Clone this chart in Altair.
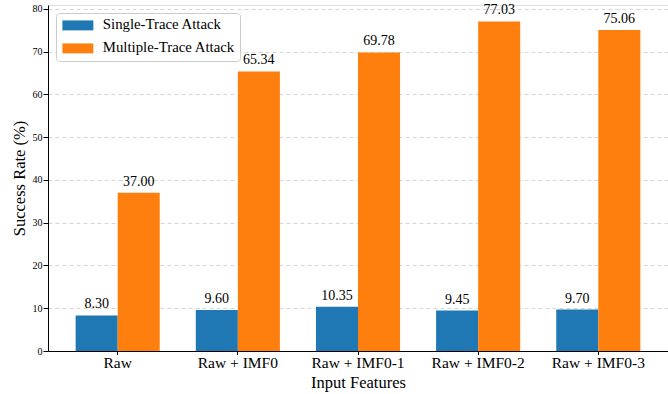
import altair as alt
import pandas as pd

categories = ["Raw", "Raw + IMF0", "Raw + IMF0-1", "Raw + IMF0-2", "Raw + IMF0-3"]
single = [8.30, 9.60, 10.35, 9.45, 9.70]
multi = [37.00, 65.34, 69.78, 77.03, 75.06]
series = ["Single-Trace Attack", "Multiple-Trace Attack"]
colors = ["#1f77b4", "#ff7f0e"]
y_ticks = [0, 10, 20, 30, 40, 50, 60, 70, 80]

rows = []
for c, s, m in zip(categories, single, multi):
    rows.append({"feature": c, "series": series[0], "value": s})
    rows.append({"feature": c, "series": series[1], "value": m})
df = pd.DataFrame(rows)

FONT = "Liberation Serif"

x = alt.X("feature:N", sort=categories, title="Input Features",
          scale=alt.Scale(paddingInner=0.3, paddingOuter=0.23),
          axis=alt.Axis(labelAngle=0, labelFontSize=15.5, titleFontSize=16.5,
                        labelFont=FONT, titleFont=FONT, tickSize=3.5,
                        labelPadding=1, titlePadding=3, labelColor="black",
                        titleColor="black", titleFontWeight="normal",
                        domainColor="black", tickColor="black", grid=False))
xo = alt.XOffset("series:N", sort=series, scale=alt.Scale(paddingInner=0, paddingOuter=0))
y = alt.Y("value:Q", title="Success Rate (%)",
          scale=alt.Scale(domain=[0, 80.88], nice=False),
          axis=alt.Axis(values=y_ticks, labelFontSize=10, titleFontSize=16.5,
                        labelFont=FONT, titleFont=FONT, tickSize=5,
                        labelPadding=1, titlePadding=5, labelColor="black",
                        titleColor="black", titleFontWeight="normal",
                        domainColor="black", tickColor="black",
                        grid=True, gridDash=[4, 3], gridColor="#cccccc", gridWidth=0.8))

color = alt.Color("series:N", sort=series,
                  scale=alt.Scale(domain=series, range=colors),
                  legend=alt.Legend(title=None, orient="none", legendX=8, legendY=8,
                                    symbolType="M-1,-0.83H4.16V0.83H-1Z", symbolSize=144,
                                    symbolStrokeWidth=0, symbolOpacity=1,
                                    labelFont=FONT, labelFontSize=14.8, labelColor="black",
                                    labelLimit=400,
                                    labelOffset=27, rowPadding=7, padding=5,
                                    fillColor="white", strokeColor="#cccccc",
                                    cornerRadius=3))

bars = alt.Chart(df).mark_bar(opacity=1).encode(x=x, xOffset=xo, y=y, color=color)
labels = alt.Chart(df).mark_text(baseline="alphabetic", dy=-7, font=FONT, fontSize=14,
                                 color="black").encode(
    x=x, xOffset=xo, y=y, text=alt.Text("value:Q", format=".2f"))

chart = alt.layer(bars, labels).properties(
    width=620, height=346,
    autosize=alt.AutoSizeParams(type="none"),
    padding={"left": 48, "top": 5, "right": 0, "bottom": 43},
).configure_view(stroke="black", strokeWidth=1).configure(background="white", font=FONT)

chart.save("out.html", embed_options={"renderer": "svg", "actions": False})
